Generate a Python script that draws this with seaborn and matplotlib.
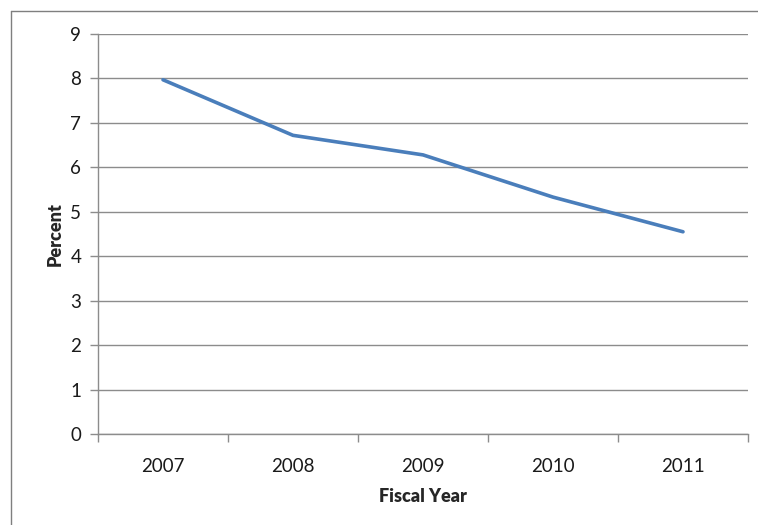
import matplotlib
matplotlib.use("Agg")
import matplotlib.pyplot as plt
import seaborn as sns
import pandas as pd
from matplotlib.lines import Line2D
from matplotlib.ticker import FixedLocator

# ---------------------------------------------------------------------------
# Data
# ---------------------------------------------------------------------------
years = ["2007", "2008", "2009", "2010", "2011"]
percent = [7.97, 6.72, 6.28, 5.33, 4.55]

df = pd.DataFrame({"idx": range(len(years)), "Percent": percent})

sns.set_style("white")
plt.rcParams["font.family"] = ["Lato", "DejaVu Sans"]

fig = plt.figure(figsize=(7.58, 5.25), dpi=100)
ax = fig.add_axes([98 / 758, 91 / 525, 650 / 758, 400 / 525])

sns.lineplot(data=df, x="idx", y="Percent", ax=ax, color="#4A7EBB", linewidth=2.6)

ax.set_xlim(-0.5, len(years) - 0.5)
ax.set_ylim(0, 9)
ax.set_yticks(range(0, 10))
ax.set_xticks(range(len(years)))
ax.set_xticklabels(years)
ax.xaxis.set_minor_locator(FixedLocator([i - 0.5 for i in range(len(years) + 1)]))

grid_c = "#8C8C8C"
ax.yaxis.grid(True, color=grid_c, linewidth=1)
ax.xaxis.grid(False)
ax.set_axisbelow(True)
for side in ["top", "right"]:
    ax.spines[side].set_visible(False)
for side in ["left", "bottom"]:
    ax.spines[side].set_color(grid_c)
    ax.spines[side].set_linewidth(1)

ax.tick_params(axis="y", which="major", length=6, color=grid_c, width=1,
               labelsize=13.5, pad=6, left=True, labelcolor="#1A1A1A")
ax.tick_params(axis="x", which="major", length=0, labelsize=13.5, pad=17, labelcolor="#1A1A1A")
ax.tick_params(axis="x", which="minor", length=6, color=grid_c, width=1, bottom=True)

ax.set_xlabel("Fiscal Year", fontsize=13, fontweight="heavy", labelpad=10)
ax.set_ylabel("Percent", fontsize=13, fontweight="heavy", labelpad=5)

# outer chart border (Excel style)
bc = "#7F7F7F"
fig.add_artist(Line2D([11 / 758, 11 / 758], [0, 1 - 11 / 525], transform=fig.transFigure, color=bc, lw=1))
fig.add_artist(Line2D([11 / 758, 1], [1 - 11 / 525, 1 - 11 / 525], transform=fig.transFigure, color=bc, lw=1))

fig.savefig("out.png", dpi=100)
plt.close(fig)
